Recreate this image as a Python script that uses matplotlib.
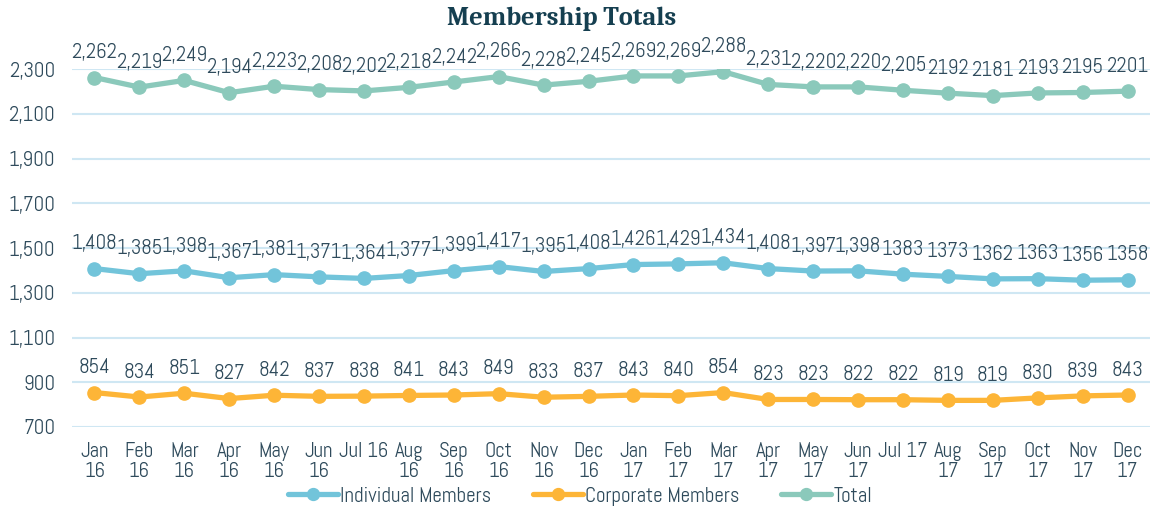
import matplotlib
matplotlib.use("Agg")
import matplotlib.pyplot as plt
from matplotlib.ticker import FuncFormatter
from matplotlib import font_manager

months = ["Jan\n16", "Feb\n16", "Mar\n16", "Apr\n16", "May\n16", "Jun\n16", "Jul 16", "Aug\n16",
          "Sep\n16", "Oct\n16", "Nov\n16", "Dec\n16", "Jan\n17", "Feb\n17", "Mar\n17", "Apr\n17",
          "May\n17", "Jun\n17", "Jul 17", "Aug\n17", "Sep\n17", "Oct\n17", "Nov\n17", "Dec\n17"]

individual = [1408, 1385, 1398, 1367, 1381, 1371, 1364, 1377, 1399, 1417, 1395, 1408,
              1426, 1429, 1434, 1408, 1397, 1398, 1383, 1373, 1362, 1363, 1356, 1358]
individual_labels = ["1,408", "1,385", "1,398", "1,367", "1,381", "1,371", "1,364", "1,377",
                     "1,399", "1,417", "1,395", "1,408", "1,426", "1,429", "1,434", "1,408",
                     "1,397", "1,398", "1383", "1373", "1362", "1363", "1356", "1358"]

corporate = [854, 834, 851, 827, 842, 837, 838, 841, 843, 849, 833, 837,
             843, 840, 854, 823, 823, 822, 822, 819, 819, 830, 839, 843]
corporate_labels = [str(v) for v in corporate]

total = [2262, 2219, 2249, 2194, 2223, 2208, 2202, 2218, 2242, 2266, 2228, 2245,
         2269, 2269, 2288, 2231, 2220, 2220, 2205, 2192, 2181, 2193, 2195, 2201]
total_labels = ["2,262", "2,219", "2,249", "2,194", "2,223", "2,208", "2,202", "2,218",
                "2,242", "2,266", "2,228", "2,245", "2,269", "2,269", "2,288", "2,231",
                "2,220", "2,220", "2,205", "2192", "2181", "2193", "2195", "2201"]

yticks = [700, 900, 1100, 1300, 1500, 1700, 1900, 2100, 2300]

names = {f.name for f in font_manager.fontManager.ttflist}
fam = 'Abel' if 'Abel' in names else 'Lato'
tfam = 'Caladea' if 'Caladea' in names else 'DejaVu Serif'
plt.rcParams['font.family'] = [fam, 'DejaVu Sans']
TXT = "#2f4b5c"
FS = 15

fig = plt.figure(figsize=(11.51, 5.18), dpi=100)
ax = fig.add_axes([72/1151, 1 - 427/518, (1150 - 72)/1151, (427 - 69)/518])

x = list(range(len(months)))
series = [
    (individual, individual_labels, "#72c4da", "Individual Members"),
    (corporate, corporate_labels, "#fdb537", "Corporate Members"),
    (total, total_labels, "#8bc9bb", "Total"),
]
for vals, labs, col, name in series:
    ax.plot(x, vals, color=col, lw=3.8, marker='o', ms=9.5, label=name,
            solid_capstyle='round', zorder=3)
    for xi, v, l in zip(x, vals, labs):
        ax.annotate(l, (xi, v), xytext=(0, 11), textcoords='offset points',
                    ha='center', va='bottom', fontsize=FS, color=TXT,
                    annotation_clip=False)

ax.set_xlim(-0.5, len(months) - 0.5)
ax.set_ylim(700, 2300)
ax.set_yticks(yticks)
ax.yaxis.set_major_formatter(FuncFormatter(lambda v, p: f"{int(v):,}"))
ax.set_xticks(x)
ax.set_xticklabels(months)
ax.tick_params(axis='both', length=0, labelsize=FS, labelcolor=TXT)
ax.tick_params(axis='x', pad=11)
ax.tick_params(axis='y', pad=12)
for lab in ax.get_xticklabels():
    lab.set_linespacing(1.05)
ax.grid(axis='y', color="#cfe7f3", lw=1.5)
ax.set_axisbelow(True)
for s in ax.spines.values():
    s.set_visible(False)

fig.text(562/1151, 1 - 19/518, "Membership Totals", ha='center', va='center',
         fontsize=19, fontweight='bold', family=tfam, color="#153f50")

leg = fig.legend(loc='center', bbox_to_anchor=(580/1151, 1 - 496/518), ncol=3, frameon=False,
                 fontsize=FS, handlelength=2.4, columnspacing=2.0, handletextpad=0.1,
                 markerscale=0.9)
for t in leg.get_texts():
    t.set_color(TXT)

fig.savefig("out.png", dpi=100)
